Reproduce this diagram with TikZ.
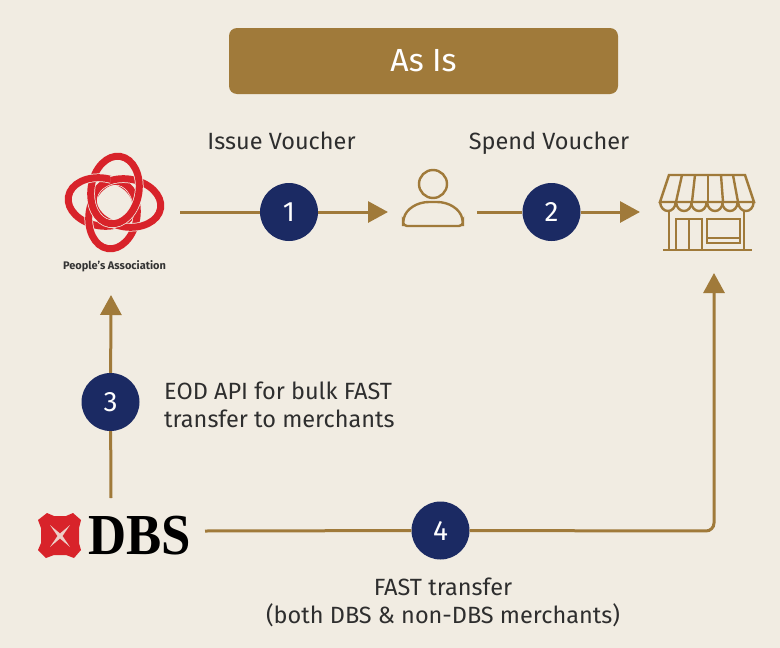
\documentclass[tikz,border=0pt]{standalone}
\usepackage{fontspec}
\setmainfont{Fira Sans}
\newfontfamily\dbsfont{Liberation Serif}
\usetikzlibrary{arrows.meta}
\definecolor{bgcream}{HTML}{F1ECE2}
\definecolor{gold}{HTML}{A07A3A}
\definecolor{navy}{HTML}{1B2A63}
\definecolor{parred}{HTML}{D8232A}
\tikzset{
  num/.style={circle,fill=navy,text=white,minimum size=58pt,inner sep=0pt,font=\fontsize{28}{32}\selectfont},
  lbl/.style={text=black!82,font=\fontsize{23.5}{27.5}\selectfont,align=center,inner sep=0pt,text height=17pt,text depth=5pt},
  lbltwo/.style={text=black!82,font=\fontsize{23.5}{27.5}\selectfont,inner sep=0pt},
  link/.style={draw=gold,line width=3pt},
  tolink/.style={link,-{Triangle[length=20pt,width=21pt]}},
  icon/.style={draw=gold,line width=2.4pt},
  ringhalo/.style={draw=bgcream,line width=8.5pt},
  ringred/.style={draw=parred,line width=7pt},
  ringleft/.style={rotate around={-9:(102,202)}},
  ringright/.style={rotate around={-9:(127,203)}},
  ringtop/.style={rotate around={-9:(115,190)}},
  ringbottom/.style={rotate around={-9:(113,215)}}
}
\begin{document}
\begin{tikzpicture}[x=1pt,y=-1pt]

      \fill[bgcream] (0,0) rectangle (780,648);
      \useasboundingbox (0,0) rectangle (780,648);

      % header
      \node (head) at (423.5,61) [fill=gold,rounded corners=8pt,minimum width=389pt,minimum height=66pt,text=white,font=\fontsize{32}{36}\selectfont] {As Is};

      % logos and icons
      \draw[ringred,ringleft] (102,202) ellipse [x radius=34,y radius=24];
      \draw[ringhalo,ringbottom] (113,215) ellipse [x radius=24,y radius=34];
      \draw[ringred,ringbottom] (113,215) ellipse [x radius=24,y radius=34];
      \draw[ringhalo,ringright] (127,203) ellipse [x radius=34,y radius=24];
      \draw[ringred,ringright] (127,203) ellipse [x radius=34,y radius=24];
      \draw[ringhalo,ringtop] (115,190) ellipse [x radius=24,y radius=34];
      \draw[ringred,ringtop] (115,190) ellipse [x radius=24,y radius=34];
      \begin{scope}
        \clip (60,160) rectangle (110,195);
        \draw[ringhalo,ringleft] (102,202) ellipse [x radius=34,y radius=24];
        \draw[ringred,ringleft] (102,202) ellipse [x radius=34,y radius=24];
      \end{scope}
      \node (pa) at (114.5,266) [inner sep=0pt,font=\fontsize{11}{12}\selectfont\bfseries,text=black!80] {People's Association};
      \coordinate (paout) at (180,212);
      \coordinate (pain) at (111,295);

      \draw[icon] (433,184) circle (14);
      \draw[icon,rounded corners=4pt] (403,226) -- (403,222) .. controls (406,209) and (417,202) .. (433,202) .. controls (449,202) and (460,209) .. (463,222) -- (463,226) -- cycle;
      \coordinate (userin) at (388,212);
      \coordinate (userout) at (477,212);

      \draw[icon] (669,175) -- (745,175) -- (754,202) -- (660,202) -- cycle;
      \foreach \a/\b in {682/676,695/692,708/708,721/723,733/738} {
        \draw[icon] (\a,175) -- (\b,202);
      }
      \foreach \x in {660,676,691,707,722,738} {
        \draw[icon] (\x,202) .. controls (\x+1,214) and (\x+15,214) .. (\x+15.7,202);
      }
      \draw[icon] (669,211) -- (669,250);
      \draw[icon] (744,211) -- (744,250);
      \draw[icon] (663,250) -- (752,250);
      \draw[icon] (676,250) -- (676,219) -- (702,219) -- (702,250);
      \draw[icon] (689,219) -- (689,250);
      \draw[icon] (707,219) rectangle (740,243);
      \draw[icon] (707,238) -- (740,238);
      \coordinate (shopin) at (640,212);
      \coordinate (shopup) at (714,273);

      \fill[parred] (47,513) -- (54,516) -- (66,516) -- (73,513) -- (81,520) -- (79,528) -- (79,543) -- (81,550) -- (74,558) -- (66,555) -- (54,555) -- (46,558) -- (38,550) -- (41,543) -- (41,528) -- (38,520) -- cycle;
      \fill[bgcream!85!parred] (50,525) -- (60,533.5) -- (70,525) -- (62.5,536) -- (70,547) -- (60,538.5) -- (50,547) -- (57.5,536) -- cycle;
      \node (dbs) at (140,536) [inner sep=0pt,xscale=0.91,transform shape,text=black,font=\fontsize{58}{58}\selectfont\dbsfont\bfseries] {DBS};
      \coordinate (dbsup) at (111,498);
      \coordinate (dbsout) at (205,531);
      \coordinate (corner) at (714,531);

      % numbered steps
      \begin{scope}[every node/.style={num}]
        \node (1) at (289,212) {1};
        \node (2) at (551.5,212) {2};
        \node (3) at (110.5,402) {3};
        \node (4) at (440.5,530.5) {4};
      \end{scope}

      % connectors
      \draw[link] (paout) -- (1);
      \draw[tolink] (1) -- (userin);
      \draw[link] (userout) -- (2);
      \draw[tolink] (2) -- (shopin);
      \draw[link] (dbsup) -- (3);
      \draw[tolink] (3) -- (pain);
      \draw[link] (dbsout) -- (4);
      \draw[tolink,rounded corners=8pt] (4) -- (corner) -- (shopup);

      % labels
      \begin{scope}[every node/.style={lbl}]
        \node (issue) at (281.5,143) {Issue Voucher};
        \node (spend) at (549,143) {Spend Voucher};
      \end{scope}
      \node (eod) at (164,405) [lbltwo,anchor=west,align=left] {EOD API for bulk FAST\\transfer to merchants};
      \node (fast) at (443,602.5) [lbltwo,align=center] {FAST transfer\\(both DBS \& non-DBS merchants)};

    \end{tikzpicture}
\end{document}
